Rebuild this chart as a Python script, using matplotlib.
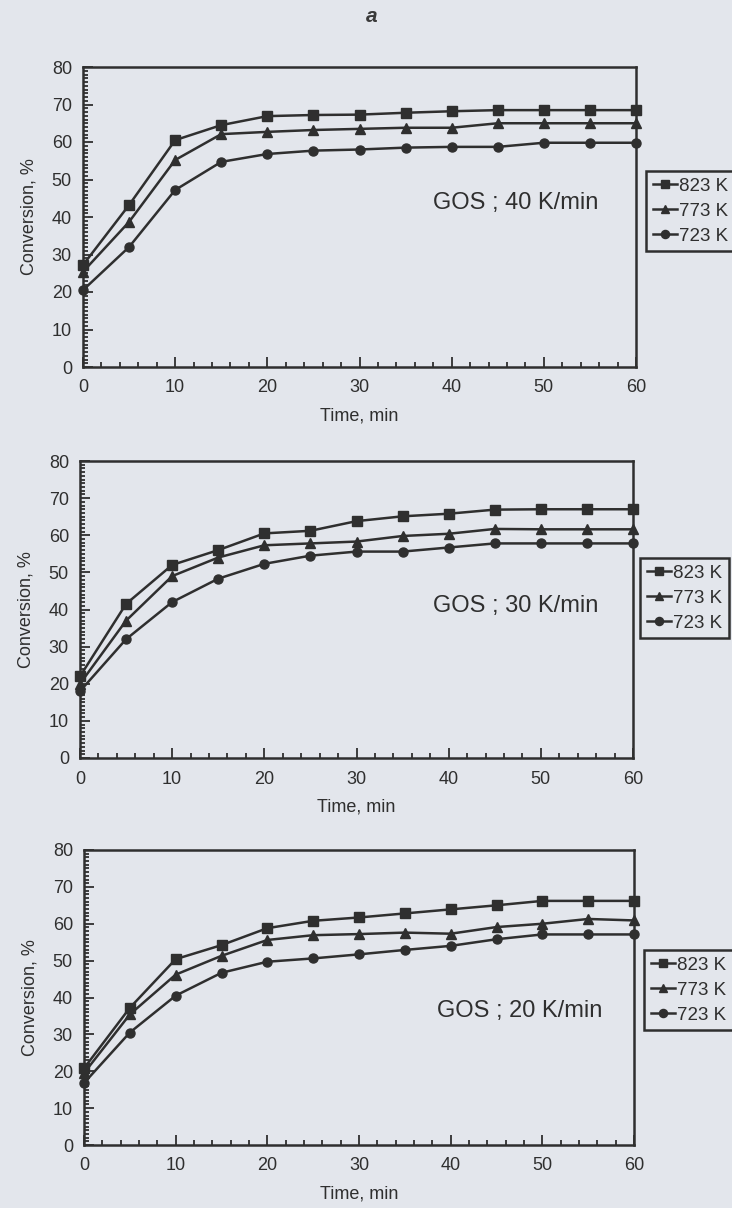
import matplotlib
matplotlib.use("Agg")
import matplotlib.pyplot as plt
from matplotlib.ticker import MultipleLocator

plt.rcParams['font.family'] = ['Liberation Sans', 'DejaVu Sans']

time = [0, 5, 10, 15, 20, 25, 30, 35, 40, 45, 50, 55, 60]
series_labels = ["823 K", "773 K", "723 K"]
markers = ["s", "^", "o"]

# Panel 1: GOS ; 40 K/min
conv40_823 = [27.2, 43.2, 60.5, 64.5, 66.9, 67.2, 67.3, 67.8, 68.2, 68.5, 68.5, 68.5, 68.5]
conv40_773 = [25.4, 38.7, 55.2, 62.1, 62.7, 63.2, 63.5, 63.8, 63.8, 65.0, 65.0, 65.0, 65.0]
conv40_723 = [20.5, 32.0, 47.2, 54.7, 56.8, 57.7, 58.0, 58.5, 58.7, 58.7, 59.8, 59.8, 59.8]

# Panel 2: GOS ; 30 K/min
conv30_823 = [22.0, 41.5, 52.0, 56.0, 60.5, 61.2, 63.8, 65.1, 65.8, 66.9, 67.0, 67.0, 67.0]
conv30_773 = [20.0, 37.0, 49.0, 54.0, 57.3, 57.8, 58.3, 59.8, 60.4, 61.7, 61.6, 61.6, 61.6]
conv30_723 = [18.0, 32.0, 42.0, 48.3, 52.3, 54.5, 55.6, 55.6, 56.7, 57.8, 57.8, 57.8, 57.8]

# Panel 3: GOS ; 20 K/min
conv20_823 = [20.8, 37.2, 50.4, 54.2, 58.8, 60.8, 61.7, 62.8, 63.9, 65.0, 66.2, 66.2, 66.2]
conv20_773 = [19.5, 35.4, 46.2, 51.3, 55.6, 56.9, 57.2, 57.6, 57.3, 59.1, 60.0, 61.3, 60.9]
conv20_723 = [16.8, 30.5, 40.5, 46.7, 49.7, 50.6, 51.7, 52.9, 54.0, 55.8, 57.1, 57.1, 57.1]

panel_titles = ["GOS ; 40 K/min", "GOS ; 30 K/min", "GOS ; 20 K/min"]
panel_data = [
    [conv40_823, conv40_773, conv40_723],
    [conv30_823, conv30_773, conv30_723],
    [conv20_823, conv20_773, conv20_723],
]
xticks = [0, 10, 20, 30, 40, 50, 60]
yticks = [0, 10, 20, 30, 40, 50, 60, 70, 80]

BG = "#e3e6ec"
INK = "#2f2f2f"
W, H = 732, 1208

fig = plt.figure(figsize=(W / 100, H / 100), dpi=100, facecolor=BG)

# axes boxes in pixels: (left, top, right, bottom)
boxes = [(83, 67, 636, 367), (80, 461, 633, 758), (84, 850, 634, 1145)]
legend_pos = [(646, 171), (640, 558), (644, 950)]
text_pos = [(47.0, 43.6), (47.3, 41.0), (47.5, 36.3)]

for i, (l, t, r, b) in enumerate(boxes):
    ax = fig.add_axes([l / W, 1 - b / H, (r - l) / W, (b - t) / H])
    ax.set_facecolor(BG)
    for ys, lab, mk in zip(panel_data[i], series_labels, markers):
        ax.plot(time, ys, color=INK, lw=1.8, marker=mk, ms=6.5,
                mfc=INK, mec=INK, label=lab, clip_on=False)
    ax.set_xlim(0, 60)
    ax.set_ylim(0, 80)
    ax.set_xticks(xticks)
    ax.set_yticks(yticks)
    ax.xaxis.set_minor_locator(MultipleLocator(2))
    ax.yaxis.set_minor_locator(MultipleLocator(1))
    ax.tick_params(which='both', direction='in', top=False, right=False,
                   color=INK, width=1.3)
    ax.tick_params(which='major', length=7, labelsize=13, labelcolor=INK)
    ax.tick_params(axis='y', which='major', pad=8)
    ax.tick_params(axis='x', which='major', pad=9)
    ax.tick_params(which='minor', length=3.5)
    for sp in ax.spines.values():
        sp.set_linewidth(1.8)
        sp.set_color(INK)
    ax.set_xlabel("Time, min", fontsize=13, color=INK, labelpad=8)
    ax.set_ylabel("Conversion, %", fontsize=13, color=INK, labelpad=10)
    ax.text(text_pos[i][0], text_pos[i][1], panel_titles[i], fontsize=17,
            color=INK, ha='center', va='center')
    lx, ly = legend_pos[i]
    leg = ax.legend(loc='upper left', bbox_to_anchor=(lx / W, 1 - ly / H),
                    bbox_transform=fig.transFigure, fontsize=13.5,
                    frameon=True, fancybox=False, edgecolor=INK,
                    facecolor=BG, framealpha=1, handlelength=1.3,
                    handletextpad=0.1, borderpad=0.35, labelspacing=0.42,
                    borderaxespad=0, markerscale=0.9)
    leg.get_frame().set_linewidth(1.8)
    for txt in leg.get_texts():
        txt.set_color(INK)

fig.text(372 / W, 1 - 17 / H, "a", fontsize=15, style='italic',
         fontweight='bold', color="#3a3a3a", ha='center', va='center')

fig.savefig("out.png", dpi=100, facecolor=BG)
